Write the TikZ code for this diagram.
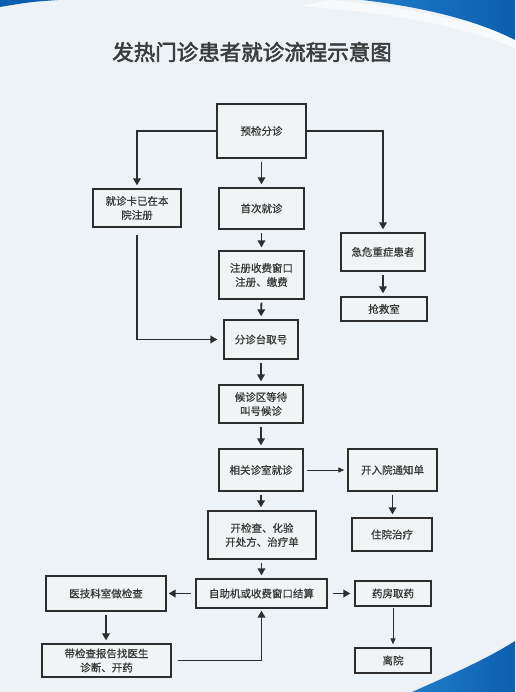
\documentclass[tikz,border=0pt]{standalone}
\usepackage{fontspec}
\setmainfont{Noto Sans CJK SC}
\newfontfamily\cjk[FakeBold=0.6]{Noto Sans CJK SC}
\newfontfamily\titlefont[FakeBold=2.5]{Noto Sans CJK SC}
\usetikzlibrary{arrows.meta}
\definecolor{bgc}{RGB}{236,242,245}
\definecolor{boxc}{RGB}{241,244,245}
\definecolor{linec}{RGB}{45,45,45}
\definecolor{txtc}{RGB}{55,55,55}
\definecolor{titlec}{RGB}{60,60,60}
\definecolor{blueA}{RGB}{12,95,175}
\definecolor{blueB}{RGB}{30,125,200}
\tikzset{
  flowbox/.style={draw=linec, line width=1.3pt, fill=boxc, text=txtc,
    font=\cjk\fontsize{10.5}{14}\selectfont, align=center, inner sep=0pt},
  flowarrow/.style={draw=linec, line width=1.8pt, -{Triangle[length=7pt,width=7.5pt]}},
  thinarrow/.style={draw=linec, line width=1pt, -{Triangle[length=6pt,width=5pt]}},
}
\begin{document}
\begin{tikzpicture}[x=1pt,y=-1pt]
\useasboundingbox (0,0) rectangle (515,692);
\fill[bgc] (0,0) rectangle (515,692);
% top decoration
\fill[blueA] (0,0) -- (58,0) .. controls (30,2) .. (0,7) -- cycle;
\fill[white, opacity=0.6] (330,0) .. controls (420,8) and (480,25) .. (515,38) -- (515,48) .. controls (470,30) and (410,14) .. (300,6) -- cycle;
\shade[left color=blueB, right color=blueA] (362,0) .. controls (430,8) and (480,22) .. (515,40) -- (515,0) -- cycle;
% bottom decoration
\shade[left color=blueB, right color=blueA] (412,692) .. controls (450,675) and (485,660) .. (515,641) -- (515,692) -- cycle;
% title
\node[text=titlec, font=\titlefont\fontsize{21.5}{25}\selectfont] (title) at (252,52) {发热门诊患者就诊流程示意图};
% boxes
\node[flowbox, minimum width=89pt, minimum height=54pt] (yj) at (261.5,131) {预检分诊};
\node[flowbox, minimum width=88pt, minimum height=38pt] (jzk) at (137,208) {就诊卡已在本\\院注册};
\node[flowbox, minimum width=85pt, minimum height=41pt] (sc) at (261.5,208.5) {首次就诊};
\node[flowbox, minimum width=84pt, minimum height=38pt] (jw) at (383,252) {急危重症患者};
\node[flowbox, minimum width=86pt, minimum height=24pt] (qj) at (384,309) {抢救室};
\node[flowbox, minimum width=85pt, minimum height=48pt] (zc) at (261.5,275) {注册收费窗口\\注册、缴费};
\node[flowbox, minimum width=74pt, minimum height=39pt] (fz) at (261,339.5) {分诊台取号};
\node[flowbox, minimum width=84pt, minimum height=38pt] (hz) at (261,404) {候诊区等待\\叫号候诊};
\node[flowbox, minimum width=84pt, minimum height=42pt] (xg) at (261,470) {相关诊室就诊};
\node[flowbox, minimum width=89pt, minimum height=42pt] (kr) at (392.5,470) {开入院通知单};
\node[flowbox, minimum width=80pt, minimum height=33pt] (zy) at (392,534.5) {住院治疗};
\node[flowbox, minimum width=108pt, minimum height=48pt] (kj) at (262,535) {开检查、化验\\开处方、治疗单};
\node[flowbox, minimum width=131pt, minimum height=29pt] (zz) at (261.5,593.5) {自助机或收费窗口结算};
\node[flowbox, minimum width=120pt, minimum height=35pt] (yjk) at (106,593.5) {医技科室做检查};
\node[flowbox, minimum width=129pt, minimum height=33pt] (dj) at (106.5,660.5) {带检查报告找医生\\诊断、开药};
\node[flowbox, minimum width=76pt, minimum height=25pt] (yf) at (393,593.5) {药房取药};
\node[flowbox, minimum width=76pt, minimum height=25pt] (ly) at (393,660.5) {离院};
% connectors
\draw[flowarrow, shorten >=3pt] (yj.west) -| (jzk.north);
\draw[flowarrow, shorten >=3pt] (yj.east) -| (jw.north);
\draw[flowarrow, shorten <=3pt, shorten >=3pt] (yj.south) -- (sc.north);
\draw[flowarrow, shorten <=3pt, shorten >=3pt] (sc.south) -- (zc.north);
\draw[flowarrow, shorten <=3pt, shorten >=3pt] (zc.south) -- (fz.north);
\draw[flowarrow, shorten <=7pt, shorten >=6pt] (jzk.south) |- (fz.west);
\draw[flowarrow, shorten <=3pt, shorten >=3pt] (jw.south) -- (qj.north -| jw.south);
\draw[flowarrow, shorten <=3pt, shorten >=3pt] (fz.south) -- (hz.north);
\draw[flowarrow, shorten <=3pt, shorten >=3pt] (hz.south) -- (xg.north);
\draw[thinarrow, shorten <=3pt, shorten >=3pt] (xg.east) -- (kr.west);
\draw[flowarrow, shorten <=3pt, shorten >=3pt] (kr.south) -- (zy.north -| kr.south);
\draw[flowarrow, shorten <=3pt, shorten >=3pt] (xg.south) -- (kj.north -| xg.south);
\draw[flowarrow, shorten <=3pt, shorten >=3pt] (kj.south -| zz.north) -- (zz.north);
\draw[flowarrow, shorten <=4pt, shorten >=2pt] (zz.west) -- (yjk.east);
\draw[flowarrow, shorten <=5pt, shorten >=4pt] (zz.east) -- (yf.west);
\draw[flowarrow, shorten <=3pt, shorten >=3pt] (yjk.south) -- (dj.north -| yjk.south);
\draw[flowarrow, shorten <=6pt, shorten >=2pt] (dj.east) -| (zz.south);
\draw[thinarrow, shorten <=1pt, shorten >=3pt] (yf.south) -- (ly.north);
\end{tikzpicture}
\end{document}
